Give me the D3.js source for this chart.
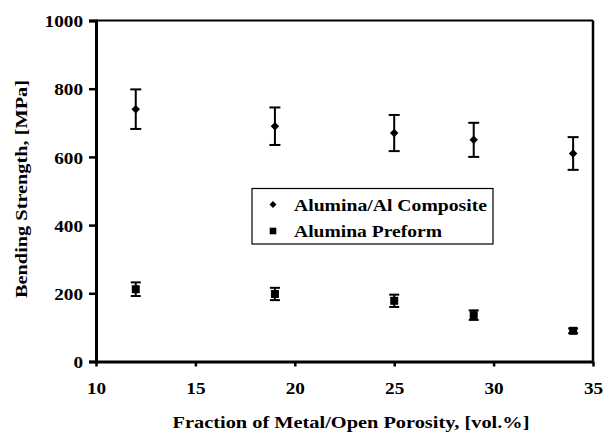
<!DOCTYPE html>
<html><head><meta charset="utf-8">
<script src="https://cdn.jsdelivr.net/npm/d3@7"></script>
<style>body{margin:0;background:#fff}svg{display:block}</style>
</head><body>
<script>
const xValues = [12, 19, 25, 29, 34];
const compositeMean = [740, 690, 670, 650, 610];
const compositeErr = [58, 55, 53, 50, 48];
const preformMean = [212, 198, 178, 136, 90];
const preformErr = [20, 18, 18, 14, 7];
const xTicks = [10, 15, 20, 25, 30, 35];
const yTicks = [0, 200, 400, 600, 800, 1000];
const seriesNames = ["Alumina/Al Composite", "Alumina Preform"];

const FONT = "'Liberation Serif', 'Times New Roman', Times, serif";
const W = 604, H = 435;
const svg = d3.select("body").append("svg").attr("width", W).attr("height", H);
const x = d3.scaleLinear().domain([10, 35]).range([96, 593]);
const y = d3.scaleLinear().domain([0, 1000]).range([361.5, 20.5]);

svg.append("line").attr("x1", x(10)).attr("x2", x(35)).attr("y1", y(1000)).attr("y2", y(1000)).attr("stroke", "#000").attr("stroke-width", 2);
svg.append("line").attr("x1", x(35)).attr("x2", x(35)).attr("y1", y(1000)).attr("y2", y(0)).attr("stroke", "#000").attr("stroke-width", 2.5);

const yAxis = d3.axisLeft(y).tickValues(yTicks).tickSize(7).tickPadding(6).tickFormat(d3.format("d"));
const gy = svg.append("g").attr("transform", `translate(${x(10)},0)`).call(yAxis);
gy.select(".domain").attr("stroke-width", 3);
gy.selectAll(".tick line").attr("stroke-width", 2.5);

const xAxis = d3.axisBottom(x).tickValues(xTicks).tickSize(5).tickPadding(15).tickSizeOuter(0);
const gx = svg.append("g").attr("transform", `translate(0,${y(0)})`).call(xAxis);
gx.select(".domain").attr("stroke-width", 3);
gx.selectAll(".tick line").attr("stroke-width", 2.5);

[gx, gy].forEach(g => g.attr("font-family", FONT).attr("font-size", 17).attr("font-weight", "bold"));
[gx, gy].forEach(g => g.selectAll("text").each(function () {
  const t = d3.select(this);
  t.attr("textLength", t.text().length * 9.6).attr("lengthAdjust", "spacingAndGlyphs");
}));
gy.selectAll("text").attr("dy", "0.36em");

svg.append("text").attr("x", 351).attr("y", 428).attr("text-anchor", "middle")
  .attr("font-family", FONT).attr("font-weight", "bold").attr("font-size", 17)
  .attr("textLength", 357).attr("lengthAdjust", "spacingAndGlyphs")
  .text("Fraction of Metal/Open Porosity, [vol.%]");
svg.append("text").attr("transform", "translate(27,189) rotate(-90)").attr("text-anchor", "middle")
  .attr("font-family", FONT).attr("font-weight", "bold").attr("font-size", 17)
  .attr("textLength", 218).attr("lengthAdjust", "spacingAndGlyphs")
  .text("Bending Strength, [MPa]");

function drawSeries(means, errs, cap, size, rot) {
  const g = svg.append("g");
  xValues.forEach((xv, i) => {
    const cx = x(xv), top = y(means[i] + errs[i]), bot = y(means[i] - errs[i]);
    g.append("line").attr("x1", cx).attr("x2", cx).attr("y1", top).attr("y2", bot).attr("stroke", "#000").attr("stroke-width", 2);
    g.append("line").attr("x1", cx - cap / 2).attr("x2", cx + cap / 2).attr("y1", top).attr("y2", top).attr("stroke", "#000").attr("stroke-width", 2);
    g.append("line").attr("x1", cx - cap / 2).attr("x2", cx + cap / 2).attr("y1", bot).attr("y2", bot).attr("stroke", "#000").attr("stroke-width", 2);
    g.append("path").attr("transform", `translate(${cx},${y(means[i])}) rotate(${rot})`)
      .attr("d", d3.symbol().type(d3.symbolSquare).size(size)()).attr("fill", "#000");
  });
}
drawSeries(compositeMean, compositeErr, 11, 36, 45);
drawSeries(preformMean, preformErr, 10, 64, 0);

const lg = svg.append("g");
lg.append("rect").attr("x", 252).attr("y", 188.5).attr("width", 241).attr("height", 55.5).attr("fill", "#fff").attr("stroke", "#000").attr("stroke-width", 1.2);
const legendRot = [45, 0];
const legendSizes = [24, 44];
const legendLen = [193, 148];
seriesNames.forEach((n, i) => {
  const ly = 204.5 + i * 26.5;
  lg.append("path").attr("transform", `translate(273,${ly}) rotate(${legendRot[i]})`).attr("d", d3.symbol().type(d3.symbolSquare).size(legendSizes[i])()).attr("fill", "#000");
  lg.append("text").attr("x", 294).attr("y", ly + 6).attr("font-family", FONT).attr("font-weight", "bold").attr("font-size", 17)
    .attr("textLength", legendLen[i]).attr("lengthAdjust", "spacingAndGlyphs").text(n);
});
</script>
</body></html>
